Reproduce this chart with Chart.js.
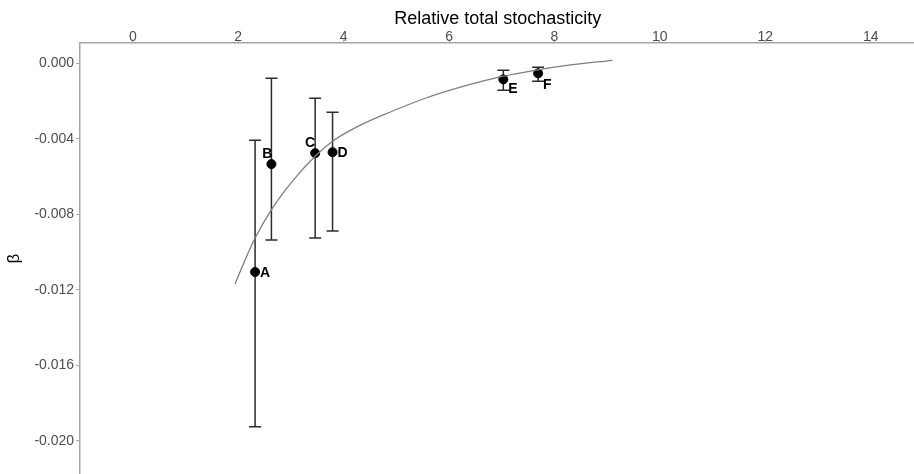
<!DOCTYPE html>
<html>
<head>
<meta charset="utf-8">
<script src="https://cdn.jsdelivr.net/npm/chart.js@4"></script>
<style>
  html, body { margin: 0; background: #fff; overflow: hidden; }
</style>
</head>
<body>
<!-- canvas a bit larger than the window so the axis lines run off the right and bottom edges -->
<canvas id="chart" width="921" height="485"></canvas>
<script>
// values
const siteLabels = ['A', 'B', 'C', 'D', 'E', 'F'];
const stochasticity = [2.32, 2.63, 3.46, 3.79, 7.03, 7.69];
const beta = [-0.01106, -0.00534, -0.00476, -0.00471, -0.00085, -0.00053];
const betaLower = [-0.01926, -0.00937, -0.00926, -0.00889, -0.00143, -0.00095];
const betaUpper = [-0.00407, -0.00079, -0.00185, -0.00259, -0.00037, -0.00021];

// fitted curve
const fitX = [1.94, 2.1, 2.32, 2.65, 3.03, 3.46, 3.79, 4.28, 4.92, 5.55, 6.35, 6.97, 7.6, 8.24, 9.1];
const fitY = [-0.01169, -0.01062, -0.00926, -0.00767, -0.00624, -0.00492, -0.00413, -0.00333, -0.00254, -0.00185, -0.00116, -0.00072, -0.00038, -0.00011, 0.00016];

const xTicks = [0, 2, 4, 6, 8, 10, 12, 14];
const yTicks = [0, -0.004, -0.008, -0.012, -0.016, -0.020];

const FONT = "'Liberation Sans', Arial, sans-serif";
const AXIS_GREY = '#a6a6a6';
const TICK_TEXT = '#4d4d4d';

const labelPlacement = {
  A: { dx: 5, dy: 1, align: 'left' },
  B: { dx: 1, dy: -10, align: 'right' },
  C: { dx: 0, dy: -10, align: 'right' },
  D: { dx: 5, dy: 1, align: 'left' },
  E: { dx: 5, dy: 10, align: 'left' },
  F: { dx: 5, dy: 12, align: 'left' }
};

const errorBars = {
  id: 'errorBars',
  beforeDatasetsDraw(chart) {
    const { ctx, scales: { x, y } } = chart;
    ctx.save();
    ctx.strokeStyle = '#2b2b2b';
    ctx.lineWidth = 1.5;
    stochasticity.forEach((sx, i) => {
      const px = x.getPixelForValue(sx);
      const top = y.getPixelForValue(betaUpper[i]);
      const bot = y.getPixelForValue(betaLower[i]);
      ctx.beginPath();
      ctx.moveTo(px, top); ctx.lineTo(px, bot);
      ctx.moveTo(px - 6, top); ctx.lineTo(px + 6, top);
      ctx.moveTo(px - 6, bot); ctx.lineTo(px + 6, bot);
      ctx.stroke();
    });
    ctx.restore();
  },
  afterDatasetsDraw(chart) {
    const { ctx, scales: { x, y } } = chart;
    ctx.save();
    ctx.fillStyle = '#000';
    ctx.font = 'bold 14px ' + FONT;
    ctx.textBaseline = 'middle';
    siteLabels.forEach((lab, i) => {
      const p = labelPlacement[lab];
      ctx.textAlign = p.align;
      ctx.fillText(lab, x.getPixelForValue(stochasticity[i]) + p.dx, y.getPixelForValue(beta[i]) + p.dy);
    });
    ctx.restore();
  }
};

new Chart(document.getElementById('chart'), {
  type: 'scatter',
  data: {
    datasets: [
      {
        label: 'fit',
        type: 'line',
        data: fitX.map((v, i) => ({ x: v, y: fitY[i] })),
        borderColor: '#7f7f7f',
        borderWidth: 1.3,
        pointRadius: 0,
        cubicInterpolationMode: 'monotone',
        fill: false
      },
      {
        label: 'sites',
        data: stochasticity.map((v, i) => ({ x: v, y: beta[i] })),
        backgroundColor: '#000',
        borderColor: '#000',
        pointRadius: 4.5,
        pointHoverRadius: 4.5
      }
    ]
  },
  options: {
    responsive: false,
    animation: false,
    layout: { padding: { top: 1, right: 0, bottom: 0, left: 4 } },
    plugins: {
      legend: { display: false },
      tooltip: { enabled: false }
    },
    scales: {
      x: {
        type: 'linear',
        position: 'top',
        min: -1,
        max: 14.85,
        afterBuildTicks: axis => { axis.ticks = xTicks.map(v => ({ value: v })); },
        grid: { drawOnChartArea: false, tickLength: 3, color: AXIS_GREY },
        border: { color: AXIS_GREY, width: 1.5 },
        ticks: { color: TICK_TEXT, font: { family: FONT, size: 14, lineHeight: 1.0 }, padding: -5, maxRotation: 0 },
        title: {
          display: true,
          text: 'Relative total stochasticity',
          color: '#000',
          font: { family: FONT, size: 18, lineHeight: 1.2 },
          padding: { top: 7, bottom: 6 }
        }
      },
      y: {
        type: 'linear',
        min: -0.0218,
        max: 0.0011,
        afterBuildTicks: axis => { axis.ticks = yTicks.map(v => ({ value: v })); },
        grid: { drawOnChartArea: false, tickLength: 4, color: AXIS_GREY },
        border: { color: AXIS_GREY, width: 1.5 },
        ticks: {
          color: TICK_TEXT,
          font: { family: FONT, size: 14 },
          padding: 2,
          callback: v => v.toFixed(3)
        },
        title: {
          display: true,
          text: 'β',
          color: '#000',
          font: { family: FONT, size: 17 },
          padding: { top: 0, bottom: 8 }
        }
      }
    }
  },
  plugins: [errorBars]
});
</script>
</body>
</html>
